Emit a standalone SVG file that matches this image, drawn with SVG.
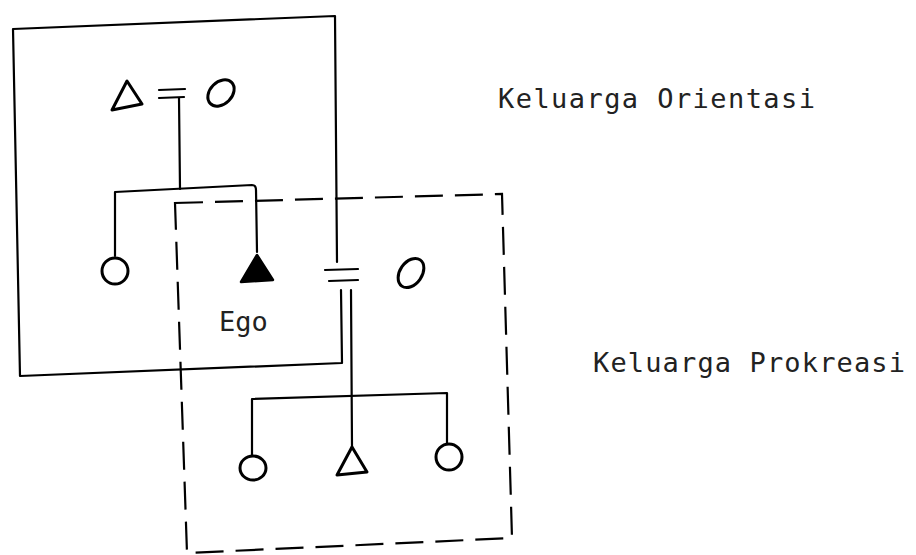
<svg xmlns="http://www.w3.org/2000/svg" width="916" height="555" viewBox="0 0 916 555">
<style>
.ln{fill:none;stroke:#000;stroke-width:2.2;stroke-linecap:round;stroke-linejoin:round}
.dash{fill:none;stroke:#000;stroke-width:2.2;stroke-dasharray:28 12;stroke-linecap:butt}
.sym{fill:none;stroke:#000;stroke-width:3;stroke-linejoin:round}
.fill{fill:#000;stroke:#000;stroke-width:2.5;stroke-linejoin:round}
.lbl{font-family:"DejaVu Sans Mono","Liberation Mono",monospace;font-size:27px;fill:#222}
</style>
<rect width="916" height="555" fill="#fff"/>
<g id="frames">
  <path id="orientasi-frame" class="ln" d="M13,29 L335,16 L337,262 M341,290 L342,363 L20,376 L13,29"/>
  <path id="prokreasi-frame" class="dash" d="M175,203 L502,194 L512,538 L187,553 Z"/>
</g>
<g id="connectors">
  <path class="ln" d="M159,90 L185,89 M159,98 L184,97"/>
  <path class="ln" d="M179,98 L180,189"/>
  <path class="ln" d="M115,256 L115,192 L252,185 Q256,185 256,190 L257,252"/>
  <path class="ln" d="M325,270 L358,269 M329,281 L358,280"/>
  <path class="ln" d="M351,290 L352,447"/>
  <path class="ln" d="M252,455 L252,399 L447,393 L447,443"/>
</g>
<g id="father"><polygon class="sym" points="127,81 112,110 142,104"/></g>
<g id="mother"><ellipse class="sym" cx="221" cy="93" rx="15" ry="11" transform="rotate(-45 221 93)"/></g>
<g id="sibling"><ellipse class="sym" cx="115" cy="271" rx="13" ry="13"/></g>
<g id="ego">
  <polygon class="fill" points="257,255 241,282 273,280"/>
  <text class="lbl" x="219" y="331">Ego</text>
</g>
<g id="spouse"><ellipse class="sym" cx="411" cy="273" rx="16" ry="11" transform="rotate(-55 411 273)"/></g>
<g id="child1"><ellipse class="sym" cx="253" cy="468" rx="13" ry="12"/></g>
<g id="child2"><polygon class="sym" points="352,447 337,475 367,472"/></g>
<g id="child3"><ellipse class="sym" cx="449" cy="457" rx="13" ry="13"/></g>
<g id="labels">
  <text class="lbl" x="498" y="108" textLength="317" lengthAdjust="spacing">Keluarga Orientasi</text>
  <text class="lbl" x="593" y="372" textLength="312" lengthAdjust="spacing">Keluarga Prokreasi</text>
</g>
</svg>
